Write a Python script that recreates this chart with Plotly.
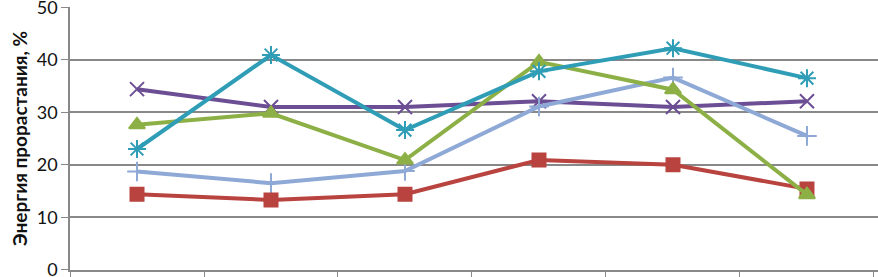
import plotly.graph_objects as go

categories = ["1", "2", "3", "4", "5", "6"]
red_vals = [14.4, 13.3, 14.4, 20.9, 20.0, 15.4]
green_vals = [27.6, 29.8, 20.9, 39.6, 34.3, 14.3]
teal_vals = [23.0, 40.9, 26.6, 37.8, 42.2, 36.5]
lightblue_vals = [18.7, 16.5, 18.8, 31.1, 36.6, 25.5]
purple_vals = [34.4, 31.0, 31.0, 32.1, 31.0, 32.1]
y_ticks = [0, 10, 20, 30, 40, 50]

series = [
    (purple_vals, "#6B4E94", "x-thin-open", 14),
    (lightblue_vals, "#8EA9D6", "cross-thin-open", 14),
    (red_vals, "#B8433F", "square", 13),
    (green_vals, "#8DB046", "triangle-up", 14),
    (teal_vals, "#2F9DB6", "asterisk-open", 15),
]

fig = go.Figure()
for vals, color, sym, size in series:
    fig.add_trace(go.Scatter(
        x=categories, y=vals, mode="lines+markers",
        line=dict(color=color, width=4),
        marker=dict(symbol=sym, size=size, color=color,
                    line=dict(color=color, width=2)),
        showlegend=False,
        cliponaxis=False,
    ))

fig.update_layout(
    width=878, height=277,
    margin=dict(l=70, r=0, t=7, b=7),
    plot_bgcolor="white", paper_bgcolor="white",
    font=dict(family="Lato, Carlito, Calibri, sans-serif", color="#111"),
)
fig.update_xaxes(
    type="category", range=[-0.5, 5.53], tickson="boundaries",
    showticklabels=False, ticks="outside", ticklen=6, tickcolor="#888",
    showline=True, linecolor="#888", linewidth=1.5, showgrid=False,
)
fig.update_yaxes(
    range=[-0.05, 50.05], tickvals=y_ticks, ticks="outside", ticklen=7,
    tickcolor="#888", showline=True, linecolor="#888", linewidth=1.5,
    gridcolor="#888", gridwidth=1.5, zeroline=False,
    tickfont=dict(size=18, color="#111"), automargin=False,
    ticklabeloverflow="allow",
    title=dict(text="<b>Энергия прорастания, %</b>", font=dict(size=19, color="#111"), standoff=4),
)
fig.write_html("out.html", config={"displayModeBar": False},
               post_script="document.body.style.margin='0';document.body.style.overflow='hidden';")
